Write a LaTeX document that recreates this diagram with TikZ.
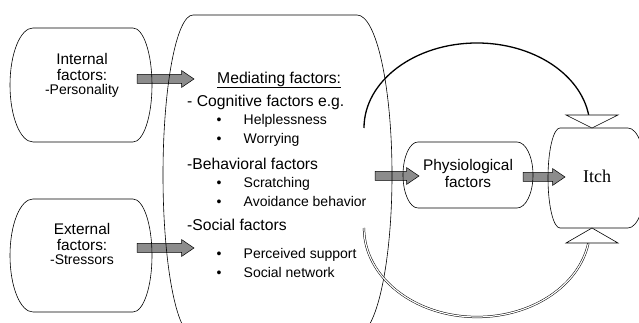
\documentclass[tikz,border=0pt]{standalone}
\usepackage{fontspec}
\setmainfont{Liberation Sans}
\newfontfamily\itchfont{Liberation Serif}
\usetikzlibrary{calc}
\definecolor{arrowgray}{RGB}{140,140,140}
\tikzset{
  outline/.style={draw=black, line width=0.6pt},
  blockarrow/.style={draw=black, fill=arrowgray, line width=0.5pt,
    to path={let \p1=(\tikztostart), \p2=(\tikztotarget) in
      (\x1,\y1+4.5pt) -- (\x2-12.5pt,\y1+4.5pt) -- (\x2-12.5pt,\y1+8.5pt) -- (\x2,\y1)
      -- (\x2-12.5pt,\y1-8.5pt) -- (\x2-12.5pt,\y1-4.5pt) -- (\x1,\y1-4.5pt) -- cycle}},
  boxbig/.style={font=\fontsize{15.4}{17}\selectfont, anchor=base, inner sep=0},
  boxsmall/.style={font=\fontsize{14}{16}\selectfont, anchor=base, inner sep=0},
  hdr/.style={font=\fontsize{15.7}{18}\selectfont, anchor=base west, inner sep=0},
  item/.style={font=\fontsize{14}{16}\selectfont, anchor=base west, inner sep=0},
  bul/.style={font=\fontsize{14}{16}\selectfont, anchor=base, inner sep=0},
  opentri/.style={draw=black, fill=white, line width=0.6pt},
}
\begin{document}
\begin{tikzpicture}[x=1pt,y=1pt]
\useasboundingbox (0,0) rectangle (639,323);
\clip (0,0) rectangle (639,323);
\fill[white] (0,0) rectangle (639,323);

% arrow end points
\coordinate (a1s) at (137,244); \coordinate (a1e) at (194,244);
\coordinate (a2s) at (137,75);  \coordinate (a2e) at (194,75);
\coordinate (a3s) at (375,147); \coordinate (a3e) at (419,147);
\coordinate (a4s) at (523,146); \coordinate (a4e) at (565,146);

% block arrows (drawn below outlines)
\draw[blockarrow] (a1s) to (a1e);
\draw[blockarrow] (a2s) to (a2e);
\draw[blockarrow] (a3s) to (a3e);
\draw[blockarrow] (a4s) to (a4e);

% Internal box
\draw[outline] (33,295) -- (133,295) arc[start angle=90, end angle=-90, x radius=19, y radius=57]
  -- (33,181) arc[start angle=270, end angle=90, x radius=23, y radius=57] -- cycle;
% External box
\draw[outline] (33,124) -- (133,124) arc[start angle=90, end angle=-90, x radius=19, y radius=56.5]
  -- (33,11) arc[start angle=270, end angle=90, x radius=23, y radius=56.5] -- cycle;
% Mediating shape
\draw[outline] (193,308) -- (357,308) arc[start angle=90, end angle=-90, x radius=35, y radius=160]
  -- (193,-12) arc[start angle=270, end angle=90, x radius=30, y radius=160] -- cycle;
% Physiological box
\draw[outline] (418,181) -- (517,181) arc[start angle=90, end angle=-90, x radius=16, y radius=33]
  -- (418,115) arc[start angle=270, end angle=90, x radius=15, y radius=33] -- cycle;
% Itch box
\draw[outline] (560,195) -- (628,195) arc[start angle=90, end angle=-90, x radius=18, y radius=50]
  -- (560,95) arc[start angle=270, end angle=90, x radius=12, y radius=50] -- cycle;

% feedback arcs
\coordinate (topstart) at (364,195);
\coordinate (botstart) at (364,95);
\coordinate (toptip) at (592,195);
\coordinate (bottip) at (592,95);
\draw[line width=1.3pt] (topstart) arc[start angle=180, end angle=8.8, x radius=113, y radius=85];
\draw[line width=0.5pt, double, double distance=1.2pt] (botstart) arc[start angle=180, end angle=350, x radius=113, y radius=89];
\draw[opentri] (toptip) -- (566,208) -- (618,208) -- cycle;
\draw[opentri] (bottip) -- (566,80) -- (618,80) -- cycle;

% Internal text
\node[boxbig] (int1) at (82,258) {Internal};
\node[boxbig] (int2) at (82,242) {factors:};
\node[boxsmall] (int3) at (82,228) {-Personality};
% External text
\node[boxbig] (ext1) at (82,88) {External};
\node[boxbig] (ext2) at (82,72) {factors:};
\node[boxsmall] (ext3) at (82,58) {-Stressors};

% Mediating text
\node[hdr] (medhead) at (217,239.7) {Mediating factors:};
\draw[line width=0.6pt] ([yshift=-3.7pt]medhead.base west) -- ([yshift=-3.7pt]medhead.base east);
\node[hdr] (cog) at (187,216) {- Cognitive factors e.g.};
\node[bul] (b1) at (219,198) {•};
\node[item] (help) at (243.5,198) {Helplessness};
\node[bul] (b2) at (219,179) {•};
\node[item] (worry) at (243.5,179) {Worrying};
\node[hdr] (beh) at (187,153.7) {-Behavioral factors};
\node[bul] (b3) at (219,135.3) {•};
\node[item] (scr) at (243.5,135.3) {Scratching};
\node[bul] (b4) at (219,116.3) {•};
\node[item] (avo) at (243.5,116.3) {Avoidance behavior};
\node[hdr] (soc) at (187,92) {-Social factors};
\node[bul] (b5) at (219,64.7) {•};
\node[item] (perc) at (243.5,64.7) {Perceived support};
\node[bul] (b6) at (219,45.7) {•};
\node[item] (net) at (243.5,45.7) {Social network};

% Physiological text
\node[boxbig] (phys1) at (468,152) {Physiological};
\node[boxbig] (phys2) at (468,135.7) {factors};
% Itch
\node[font=\itchfont\fontsize{18}{20}\selectfont, anchor=base west, inner sep=0] (itch) at (583,140.3) {Itch};
\end{tikzpicture}
\end{document}
